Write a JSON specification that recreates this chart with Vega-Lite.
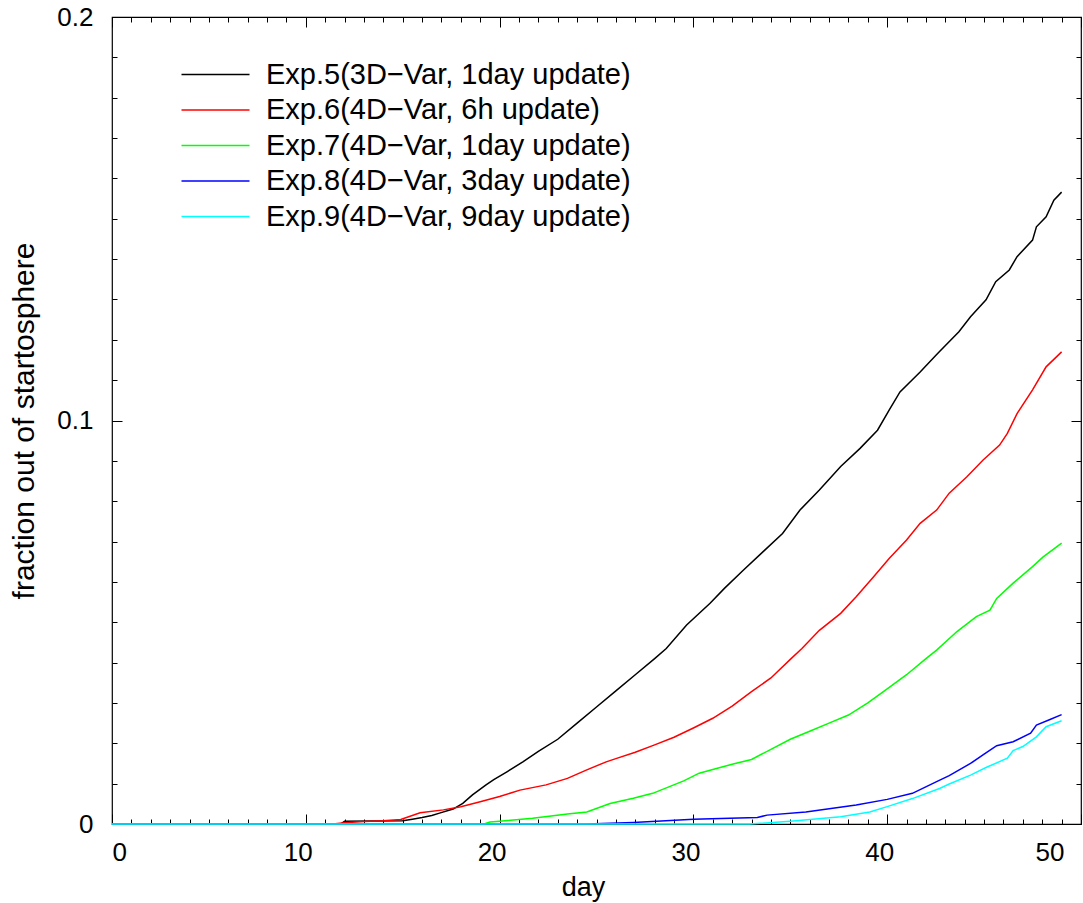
{
  "$schema": "https://vega.github.io/schema/vega-lite/v6.json",
  "width": 969,
  "height": 807,
  "autosize": {"type": "none"},
  "padding": {"left": 112, "top": 17, "right": 2, "bottom": 79},
  "background": "white",
  "config": {
    "view": {"stroke": "#000000", "strokeWidth": 1.2},
    "axis": {
      "domain": false, "grid": false, "tickColor": "#000000", "tickWidth": 1,
      "labelFont": "Liberation Sans", "titleFont": "Liberation Sans",
      "labelFontSize": 26, "titleFontSize": 27, "labelColor": "#000000",
      "titleColor": "#000000", "titleFontWeight": "normal", "labelOverlap": false
    },
    "legend": {"labelFont": "Liberation Sans", "labelColor": "#000000"}
  },
  "data": {"values": [
    {"series": "Exp.5(3D−Var, 1day update)", "day": 0, "v": 0},
    {"series": "Exp.5(3D−Var, 1day update)", "day": 11.8, "v": 0},
    {"series": "Exp.5(3D−Var, 1day update)", "day": 12.0, "v": 0.0007},
    {"series": "Exp.5(3D−Var, 1day update)", "day": 15.0, "v": 0.0008},
    {"series": "Exp.5(3D−Var, 1day update)", "day": 15.5, "v": 0.0012},
    {"series": "Exp.5(3D−Var, 1day update)", "day": 16.0, "v": 0.0016},
    {"series": "Exp.5(3D−Var, 1day update)", "day": 16.5, "v": 0.0021},
    {"series": "Exp.5(3D−Var, 1day update)", "day": 16.9, "v": 0.0027},
    {"series": "Exp.5(3D−Var, 1day update)", "day": 17.6, "v": 0.0037},
    {"series": "Exp.5(3D−Var, 1day update)", "day": 18.1, "v": 0.0051},
    {"series": "Exp.5(3D−Var, 1day update)", "day": 18.6, "v": 0.0072},
    {"series": "Exp.5(3D−Var, 1day update)", "day": 19.3, "v": 0.0097},
    {"series": "Exp.5(3D−Var, 1day update)", "day": 19.7, "v": 0.011},
    {"series": "Exp.5(3D−Var, 1day update)", "day": 20.4, "v": 0.013},
    {"series": "Exp.5(3D−Var, 1day update)", "day": 21.2, "v": 0.0154},
    {"series": "Exp.5(3D−Var, 1day update)", "day": 22.0, "v": 0.018},
    {"series": "Exp.5(3D−Var, 1day update)", "day": 23.0, "v": 0.021},
    {"series": "Exp.5(3D−Var, 1day update)", "day": 24.0, "v": 0.025},
    {"series": "Exp.5(3D−Var, 1day update)", "day": 25.0, "v": 0.029},
    {"series": "Exp.5(3D−Var, 1day update)", "day": 26.0, "v": 0.033},
    {"series": "Exp.5(3D−Var, 1day update)", "day": 27.0, "v": 0.037},
    {"series": "Exp.5(3D−Var, 1day update)", "day": 28.0, "v": 0.041},
    {"series": "Exp.5(3D−Var, 1day update)", "day": 28.6, "v": 0.0435},
    {"series": "Exp.5(3D−Var, 1day update)", "day": 29.65, "v": 0.0493},
    {"series": "Exp.5(3D−Var, 1day update)", "day": 30.86, "v": 0.0547},
    {"series": "Exp.5(3D−Var, 1day update)", "day": 31.6, "v": 0.0584},
    {"series": "Exp.5(3D−Var, 1day update)", "day": 32.6, "v": 0.063},
    {"series": "Exp.5(3D−Var, 1day update)", "day": 33.6, "v": 0.0675},
    {"series": "Exp.5(3D−Var, 1day update)", "day": 34.6, "v": 0.072},
    {"series": "Exp.5(3D−Var, 1day update)", "day": 35.5, "v": 0.0778},
    {"series": "Exp.5(3D−Var, 1day update)", "day": 36.5, "v": 0.0828},
    {"series": "Exp.5(3D−Var, 1day update)", "day": 37.6, "v": 0.0886},
    {"series": "Exp.5(3D−Var, 1day update)", "day": 38.6, "v": 0.0931},
    {"series": "Exp.5(3D−Var, 1day update)", "day": 39.5, "v": 0.0976},
    {"series": "Exp.5(3D−Var, 1day update)", "day": 40.1, "v": 0.1026},
    {"series": "Exp.5(3D−Var, 1day update)", "day": 40.66, "v": 0.1071},
    {"series": "Exp.5(3D−Var, 1day update)", "day": 41.7, "v": 0.112},
    {"series": "Exp.5(3D−Var, 1day update)", "day": 42.6, "v": 0.1166},
    {"series": "Exp.5(3D−Var, 1day update)", "day": 43.7, "v": 0.122},
    {"series": "Exp.5(3D−Var, 1day update)", "day": 44.3, "v": 0.1257},
    {"series": "Exp.5(3D−Var, 1day update)", "day": 45.1, "v": 0.1299},
    {"series": "Exp.5(3D−Var, 1day update)", "day": 45.6, "v": 0.1344},
    {"series": "Exp.5(3D−Var, 1day update)", "day": 46.3, "v": 0.1373},
    {"series": "Exp.5(3D−Var, 1day update)", "day": 46.7, "v": 0.1406},
    {"series": "Exp.5(3D−Var, 1day update)", "day": 47.5, "v": 0.1447},
    {"series": "Exp.5(3D−Var, 1day update)", "day": 47.7, "v": 0.148},
    {"series": "Exp.5(3D−Var, 1day update)", "day": 48.2, "v": 0.1505},
    {"series": "Exp.5(3D−Var, 1day update)", "day": 48.6, "v": 0.1546},
    {"series": "Exp.5(3D−Var, 1day update)", "day": 49.0, "v": 0.1566},
    {"series": "Exp.6(4D−Var, 6h update)", "day": 0, "v": 0},
    {"series": "Exp.6(4D−Var, 6h update)", "day": 11.4, "v": 0},
    {"series": "Exp.6(4D−Var, 6h update)", "day": 12.0, "v": 0.0003},
    {"series": "Exp.6(4D−Var, 6h update)", "day": 13.0, "v": 0.0006},
    {"series": "Exp.6(4D−Var, 6h update)", "day": 14.0, "v": 0.0008},
    {"series": "Exp.6(4D−Var, 6h update)", "day": 14.9, "v": 0.0011},
    {"series": "Exp.6(4D−Var, 6h update)", "day": 15.9, "v": 0.0028},
    {"series": "Exp.6(4D−Var, 6h update)", "day": 17.1, "v": 0.0035},
    {"series": "Exp.6(4D−Var, 6h update)", "day": 18.0, "v": 0.0043},
    {"series": "Exp.6(4D−Var, 6h update)", "day": 19.0, "v": 0.0055},
    {"series": "Exp.6(4D−Var, 6h update)", "day": 20.0, "v": 0.0068},
    {"series": "Exp.6(4D−Var, 6h update)", "day": 21.05, "v": 0.0084},
    {"series": "Exp.6(4D−Var, 6h update)", "day": 22.4, "v": 0.0097},
    {"series": "Exp.6(4D−Var, 6h update)", "day": 23.5, "v": 0.0113},
    {"series": "Exp.6(4D−Var, 6h update)", "day": 24.5, "v": 0.0134},
    {"series": "Exp.6(4D−Var, 6h update)", "day": 25.5, "v": 0.0154},
    {"series": "Exp.6(4D−Var, 6h update)", "day": 26.0, "v": 0.0162},
    {"series": "Exp.6(4D−Var, 6h update)", "day": 27.0, "v": 0.0178},
    {"series": "Exp.6(4D−Var, 6h update)", "day": 28.0, "v": 0.0196},
    {"series": "Exp.6(4D−Var, 6h update)", "day": 29.0, "v": 0.0215},
    {"series": "Exp.6(4D−Var, 6h update)", "day": 30.0, "v": 0.0238},
    {"series": "Exp.6(4D−Var, 6h update)", "day": 31.0, "v": 0.0262},
    {"series": "Exp.6(4D−Var, 6h update)", "day": 32.0, "v": 0.0292},
    {"series": "Exp.6(4D−Var, 6h update)", "day": 33.0, "v": 0.0328},
    {"series": "Exp.6(4D−Var, 6h update)", "day": 34.0, "v": 0.0362},
    {"series": "Exp.6(4D−Var, 6h update)", "day": 35.0, "v": 0.0408},
    {"series": "Exp.6(4D−Var, 6h update)", "day": 35.6, "v": 0.0435},
    {"series": "Exp.6(4D−Var, 6h update)", "day": 36.5, "v": 0.048},
    {"series": "Exp.6(4D−Var, 6h update)", "day": 37.6, "v": 0.0522},
    {"series": "Exp.6(4D−Var, 6h update)", "day": 38.4, "v": 0.0563},
    {"series": "Exp.6(4D−Var, 6h update)", "day": 39.3, "v": 0.0613},
    {"series": "Exp.6(4D−Var, 6h update)", "day": 40.1, "v": 0.0658},
    {"series": "Exp.6(4D−Var, 6h update)", "day": 41.0, "v": 0.0704},
    {"series": "Exp.6(4D−Var, 6h update)", "day": 41.7, "v": 0.0745},
    {"series": "Exp.6(4D−Var, 6h update)", "day": 42.55, "v": 0.0778},
    {"series": "Exp.6(4D−Var, 6h update)", "day": 43.2, "v": 0.082},
    {"series": "Exp.6(4D−Var, 6h update)", "day": 44.1, "v": 0.086},
    {"series": "Exp.6(4D−Var, 6h update)", "day": 44.95, "v": 0.0902},
    {"series": "Exp.6(4D−Var, 6h update)", "day": 45.8, "v": 0.0939},
    {"series": "Exp.6(4D−Var, 6h update)", "day": 46.2, "v": 0.0968},
    {"series": "Exp.6(4D−Var, 6h update)", "day": 46.7, "v": 0.1017},
    {"series": "Exp.6(4D−Var, 6h update)", "day": 47.5, "v": 0.1076},
    {"series": "Exp.6(4D−Var, 6h update)", "day": 48.2, "v": 0.1133},
    {"series": "Exp.6(4D−Var, 6h update)", "day": 49.0, "v": 0.117},
    {"series": "Exp.7(4D−Var, 1day update)", "day": 0, "v": 0},
    {"series": "Exp.7(4D−Var, 1day update)", "day": 19.2, "v": 0},
    {"series": "Exp.7(4D−Var, 1day update)", "day": 19.5, "v": 0.0005},
    {"series": "Exp.7(4D−Var, 1day update)", "day": 20.0, "v": 0.0007},
    {"series": "Exp.7(4D−Var, 1day update)", "day": 21.7, "v": 0.0014},
    {"series": "Exp.7(4D−Var, 1day update)", "day": 23.5, "v": 0.0025},
    {"series": "Exp.7(4D−Var, 1day update)", "day": 24.5, "v": 0.003},
    {"series": "Exp.7(4D−Var, 1day update)", "day": 25.7, "v": 0.0051},
    {"series": "Exp.7(4D−Var, 1day update)", "day": 26.9, "v": 0.0064},
    {"series": "Exp.7(4D−Var, 1day update)", "day": 27.9, "v": 0.0076},
    {"series": "Exp.7(4D−Var, 1day update)", "day": 29.5, "v": 0.0107},
    {"series": "Exp.7(4D−Var, 1day update)", "day": 30.3, "v": 0.0126},
    {"series": "Exp.7(4D−Var, 1day update)", "day": 31.0, "v": 0.0135},
    {"series": "Exp.7(4D−Var, 1day update)", "day": 32.0, "v": 0.0148},
    {"series": "Exp.7(4D−Var, 1day update)", "day": 33.0, "v": 0.016},
    {"series": "Exp.7(4D−Var, 1day update)", "day": 34.0, "v": 0.0185},
    {"series": "Exp.7(4D−Var, 1day update)", "day": 35.0, "v": 0.021},
    {"series": "Exp.7(4D−Var, 1day update)", "day": 36.0, "v": 0.023},
    {"series": "Exp.7(4D−Var, 1day update)", "day": 37.0, "v": 0.025},
    {"series": "Exp.7(4D−Var, 1day update)", "day": 38.0, "v": 0.027},
    {"series": "Exp.7(4D−Var, 1day update)", "day": 39.0, "v": 0.03},
    {"series": "Exp.7(4D−Var, 1day update)", "day": 40.0, "v": 0.0335},
    {"series": "Exp.7(4D−Var, 1day update)", "day": 41.0, "v": 0.037},
    {"series": "Exp.7(4D−Var, 1day update)", "day": 42.0, "v": 0.041},
    {"series": "Exp.7(4D−Var, 1day update)", "day": 42.55, "v": 0.0431},
    {"series": "Exp.7(4D−Var, 1day update)", "day": 43.6, "v": 0.0477},
    {"series": "Exp.7(4D−Var, 1day update)", "day": 44.6, "v": 0.0514},
    {"series": "Exp.7(4D−Var, 1day update)", "day": 45.3, "v": 0.053},
    {"series": "Exp.7(4D−Var, 1day update)", "day": 45.65, "v": 0.0559},
    {"series": "Exp.7(4D−Var, 1day update)", "day": 46.5, "v": 0.0597},
    {"series": "Exp.7(4D−Var, 1day update)", "day": 47.5, "v": 0.0638},
    {"series": "Exp.7(4D−Var, 1day update)", "day": 48.05, "v": 0.0662},
    {"series": "Exp.7(4D−Var, 1day update)", "day": 49.0, "v": 0.0696},
    {"series": "Exp.8(4D−Var, 3day update)", "day": 0, "v": 0},
    {"series": "Exp.8(4D−Var, 3day update)", "day": 24.5, "v": 0},
    {"series": "Exp.8(4D−Var, 3day update)", "day": 26.9, "v": 0.0004},
    {"series": "Exp.8(4D−Var, 3day update)", "day": 30.0, "v": 0.0012},
    {"series": "Exp.8(4D−Var, 3day update)", "day": 33.3, "v": 0.0016},
    {"series": "Exp.8(4D−Var, 3day update)", "day": 33.8, "v": 0.0022},
    {"series": "Exp.8(4D−Var, 3day update)", "day": 35.8, "v": 0.003},
    {"series": "Exp.8(4D−Var, 3day update)", "day": 38.4, "v": 0.0047},
    {"series": "Exp.8(4D−Var, 3day update)", "day": 40.0, "v": 0.0061},
    {"series": "Exp.8(4D−Var, 3day update)", "day": 41.3, "v": 0.0076},
    {"series": "Exp.8(4D−Var, 3day update)", "day": 42.55, "v": 0.0105},
    {"series": "Exp.8(4D−Var, 3day update)", "day": 43.2, "v": 0.012},
    {"series": "Exp.8(4D−Var, 3day update)", "day": 44.3, "v": 0.015},
    {"series": "Exp.8(4D−Var, 3day update)", "day": 45.0, "v": 0.0173},
    {"series": "Exp.8(4D−Var, 3day update)", "day": 45.65, "v": 0.0194},
    {"series": "Exp.8(4D−Var, 3day update)", "day": 46.5, "v": 0.0204},
    {"series": "Exp.8(4D−Var, 3day update)", "day": 47.4, "v": 0.0225},
    {"series": "Exp.8(4D−Var, 3day update)", "day": 47.7, "v": 0.0245},
    {"series": "Exp.8(4D−Var, 3day update)", "day": 48.4, "v": 0.0259},
    {"series": "Exp.8(4D−Var, 3day update)", "day": 49.0, "v": 0.0271},
    {"series": "Exp.9(4D−Var, 9day update)", "day": 0, "v": 0},
    {"series": "Exp.9(4D−Var, 9day update)", "day": 32.9, "v": 0},
    {"series": "Exp.9(4D−Var, 9day update)", "day": 35.0, "v": 0.0007},
    {"series": "Exp.9(4D−Var, 9day update)", "day": 37.6, "v": 0.0018},
    {"series": "Exp.9(4D−Var, 9day update)", "day": 39.1, "v": 0.003},
    {"series": "Exp.9(4D−Var, 9day update)", "day": 40.0, "v": 0.0043},
    {"series": "Exp.9(4D−Var, 9day update)", "day": 41.3, "v": 0.0063},
    {"series": "Exp.9(4D−Var, 9day update)", "day": 42.7, "v": 0.0088},
    {"series": "Exp.9(4D−Var, 9day update)", "day": 43.2, "v": 0.0099},
    {"series": "Exp.9(4D−Var, 9day update)", "day": 44.3, "v": 0.0121},
    {"series": "Exp.9(4D−Var, 9day update)", "day": 45.1, "v": 0.014},
    {"series": "Exp.9(4D−Var, 9day update)", "day": 46.2, "v": 0.0163},
    {"series": "Exp.9(4D−Var, 9day update)", "day": 46.5, "v": 0.0182},
    {"series": "Exp.9(4D−Var, 9day update)", "day": 47.0, "v": 0.0192},
    {"series": "Exp.9(4D−Var, 9day update)", "day": 47.7, "v": 0.0216},
    {"series": "Exp.9(4D−Var, 9day update)", "day": 48.2, "v": 0.0241},
    {"series": "Exp.9(4D−Var, 9day update)", "day": 49.0, "v": 0.0256}
  ]},
  "layer": [
    {
      "mark": {"type": "line", "strokeWidth": 1.5},
      "encoding": {
        "x": {"field": "day", "type": "quantitative",
          "scale": {"domain": [0, 50], "nice": false, "zero": false},
          "axis": {"orient": "bottom", "values": [0, 10, 20, 30, 40, 50], "tickSize": -10,
            "labelPadding": 25, "labelBaseline": "top",
            "labelOffset": {"condition": [{"test": "datum.value == 0", "value": 0}, {"test": "datum.value == 50", "value": -17}], "value": -8},
            "title": "day", "titleX": 471, "titleY": 71, "titleBaseline": "alphabetic", "titleAlign": "center"}},
        "y": {"field": "v", "type": "quantitative",
          "scale": {"domain": [0, 0.2], "nice": false, "zero": true},
          "axis": {"orient": "left", "values": [0, 0.1, 0.2], "tickSize": -10,
            "labelPadding": 29, "labelExpr": "datum.value == 0 ? '0' : format(datum.value, '.1f')",
            "title": "fraction out of startosphere", "titleFontSize": 30, "titleX": -79, "titleY": 403.5,
            "titleAngle": 270, "titleBaseline": "alphabetic", "titleAlign": "center"}},
        "color": {"field": "series", "type": "nominal",
          "scale": {"domain": ["Exp.5(3D−Var, 1day update)", "Exp.6(4D−Var, 6h update)", "Exp.7(4D−Var, 1day update)", "Exp.8(4D−Var, 3day update)", "Exp.9(4D−Var, 9day update)"],
            "range": ["#000000", "#ff0000", "#00ff00", "#0000ff", "#00ffff"]},
          "legend": {"title": null, "orient": "none", "legendX": 89, "legendY": 43, "padding": 0,
            "symbolType": "M-6.8,0H6.8", "symbolSize": 100, "symbolStrokeWidth": 1.5,
            "labelFontSize": 29, "labelOffset": 36, "rowPadding": 5.5, "labelLimit": 0}}
      }
    },
    {
      "mark": {"type": "point", "opacity": 0},
      "encoding": {
        "x": {"field": "day", "type": "quantitative",
          "axis": {"orient": "bottom", "values": [0,1,2,3,4,5,6,7,8,9,10,11,12,13,14,15,16,17,18,19,20,21,22,23,24,25,26,27,28,29,30,31,32,33,34,35,36,37,38,39,40,41,42,43,44,45,46,47,48,49,50],
            "tickSize": -5, "labels": false, "title": null}},
        "y": {"field": "v", "type": "quantitative",
          "axis": {"orient": "left", "values": [0,0.01,0.02,0.03,0.04,0.05,0.06,0.07,0.08,0.09,0.1,0.11,0.12,0.13,0.14,0.15,0.16,0.17,0.18,0.19,0.2],
            "tickSize": -5, "labels": false, "title": null}}
      }
    },
    {
      "mark": {"type": "point", "opacity": 0},
      "encoding": {
        "x": {"field": "day", "type": "quantitative",
          "axis": {"orient": "top", "values": [0, 10, 20, 30, 40, 50], "tickSize": -10, "labels": false, "title": null}},
        "y": {"field": "v", "type": "quantitative",
          "axis": {"orient": "right", "values": [0, 0.1, 0.2], "tickSize": -10, "labels": false, "title": null}}
      }
    },
    {
      "mark": {"type": "point", "opacity": 0},
      "encoding": {
        "x": {"field": "day", "type": "quantitative",
          "axis": {"orient": "top", "values": [0,1,2,3,4,5,6,7,8,9,10,11,12,13,14,15,16,17,18,19,20,21,22,23,24,25,26,27,28,29,30,31,32,33,34,35,36,37,38,39,40,41,42,43,44,45,46,47,48,49,50],
            "tickSize": -5, "labels": false, "title": null}},
        "y": {"field": "v", "type": "quantitative",
          "axis": {"orient": "right", "values": [0,0.01,0.02,0.03,0.04,0.05,0.06,0.07,0.08,0.09,0.1,0.11,0.12,0.13,0.14,0.15,0.16,0.17,0.18,0.19,0.2],
            "tickSize": -5, "labels": false, "title": null}}
      }
    }
  ],
  "resolve": {"axis": {"x": "independent", "y": "independent"}}
}
